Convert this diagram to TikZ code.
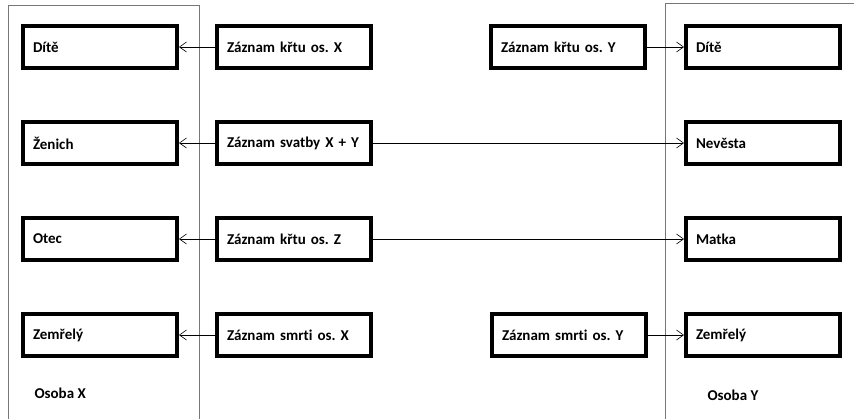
\documentclass[tikz,border=0pt]{standalone}
\usepackage{fontspec}
\setmainfont{Carlito}[Ligatures=NoCommon]
\usepackage{tikz}
\usepackage{xcolor}
\usetikzlibrary{arrows.meta, positioning}
\frenchspacing
\definecolor{framegray}{RGB}{120, 120, 120}
\tikzstyle{osoba} = [rectangle, text width=134pt, minimum height=42pt, inner xsep=10pt, align=left, draw=black, line width=4pt, fill=white, font=\bfseries\fontsize{15}{18}\selectfont]
\tikzstyle{zaznam} = [osoba]
\tikzstyle{arrow} = [line width=0.8pt, -{Straight Barb[length=7pt, width=10pt, line width=0.6pt]}]
\tikzstyle{frame} = [draw=framegray, line width=1pt]
\tikzstyle{label} = [font=\bfseries\fontsize{15}{18}\selectfont, anchor=west]

\begin{document}
\begin{tikzpicture}[x=1pt, y=-1pt]
\useasboundingbox (0,0) rectangle (854,418);

% Person frames (open at the bottom / right edge)
\draw [frame] (8,425) -- (8,5) -- (199,5) -- (199,425);
\draw [frame] (665,425) -- (665,3) -- (860,3);

% Person X
\node (diteX) [osoba] at (100,47) {Dítě};
\node (zenich) [osoba, below=50pt of diteX] {Ženich};
\node (otec) [osoba, below=50pt of zenich] {Otec};
\node (zemrelyX) [osoba, below=50pt of otec] {Zemřelý};
\node (osobaX) [label] at (31,393) {Osoba X};

% Records
\node (krestX) [zaznam, right=36pt of diteX] {Záznam křtu os. X};
\node (svatba) [zaznam, right=36pt of zenich] {Záznam svatby X + Y};
\node (krestZ) [zaznam, right=36pt of otec] {Záznam křtu os. Z};
\node (smrtX) [zaznam, right=36pt of zemrelyX] {Záznam smrti os. X};
\node (krestY) [zaznam] at (568,47) {Záznam křtu os. Y};
\node (smrtY) [zaznam] at (569,335) {Záznam smrti os. Y};

% Person Y
\node (diteY) [osoba] at (763,47) {Dítě};
\node (nevesta) [osoba, below=50pt of diteY] {Nevěsta};
\node (matka) [osoba, below=50pt of nevesta] {Matka};
\node (zemrelyY) [osoba, below=50pt of matka] {Zemřelý};
\node (osobaY) [label] at (704,395) {Osoba Y};

% Links from records to roles
\draw [arrow] (krestX) -- (diteX);
\draw [arrow] (svatba) -- (zenich);
\draw [arrow] (krestZ) -- (otec);
\draw [arrow] (smrtX) -- (zemrelyX);
\draw [arrow] (krestY) -- (diteY);
\draw [arrow] (svatba) -- (nevesta);
\draw [arrow] (krestZ) -- (matka);
\draw [arrow] (smrtY) -- (zemrelyY);

\end{tikzpicture}
\end{document}
